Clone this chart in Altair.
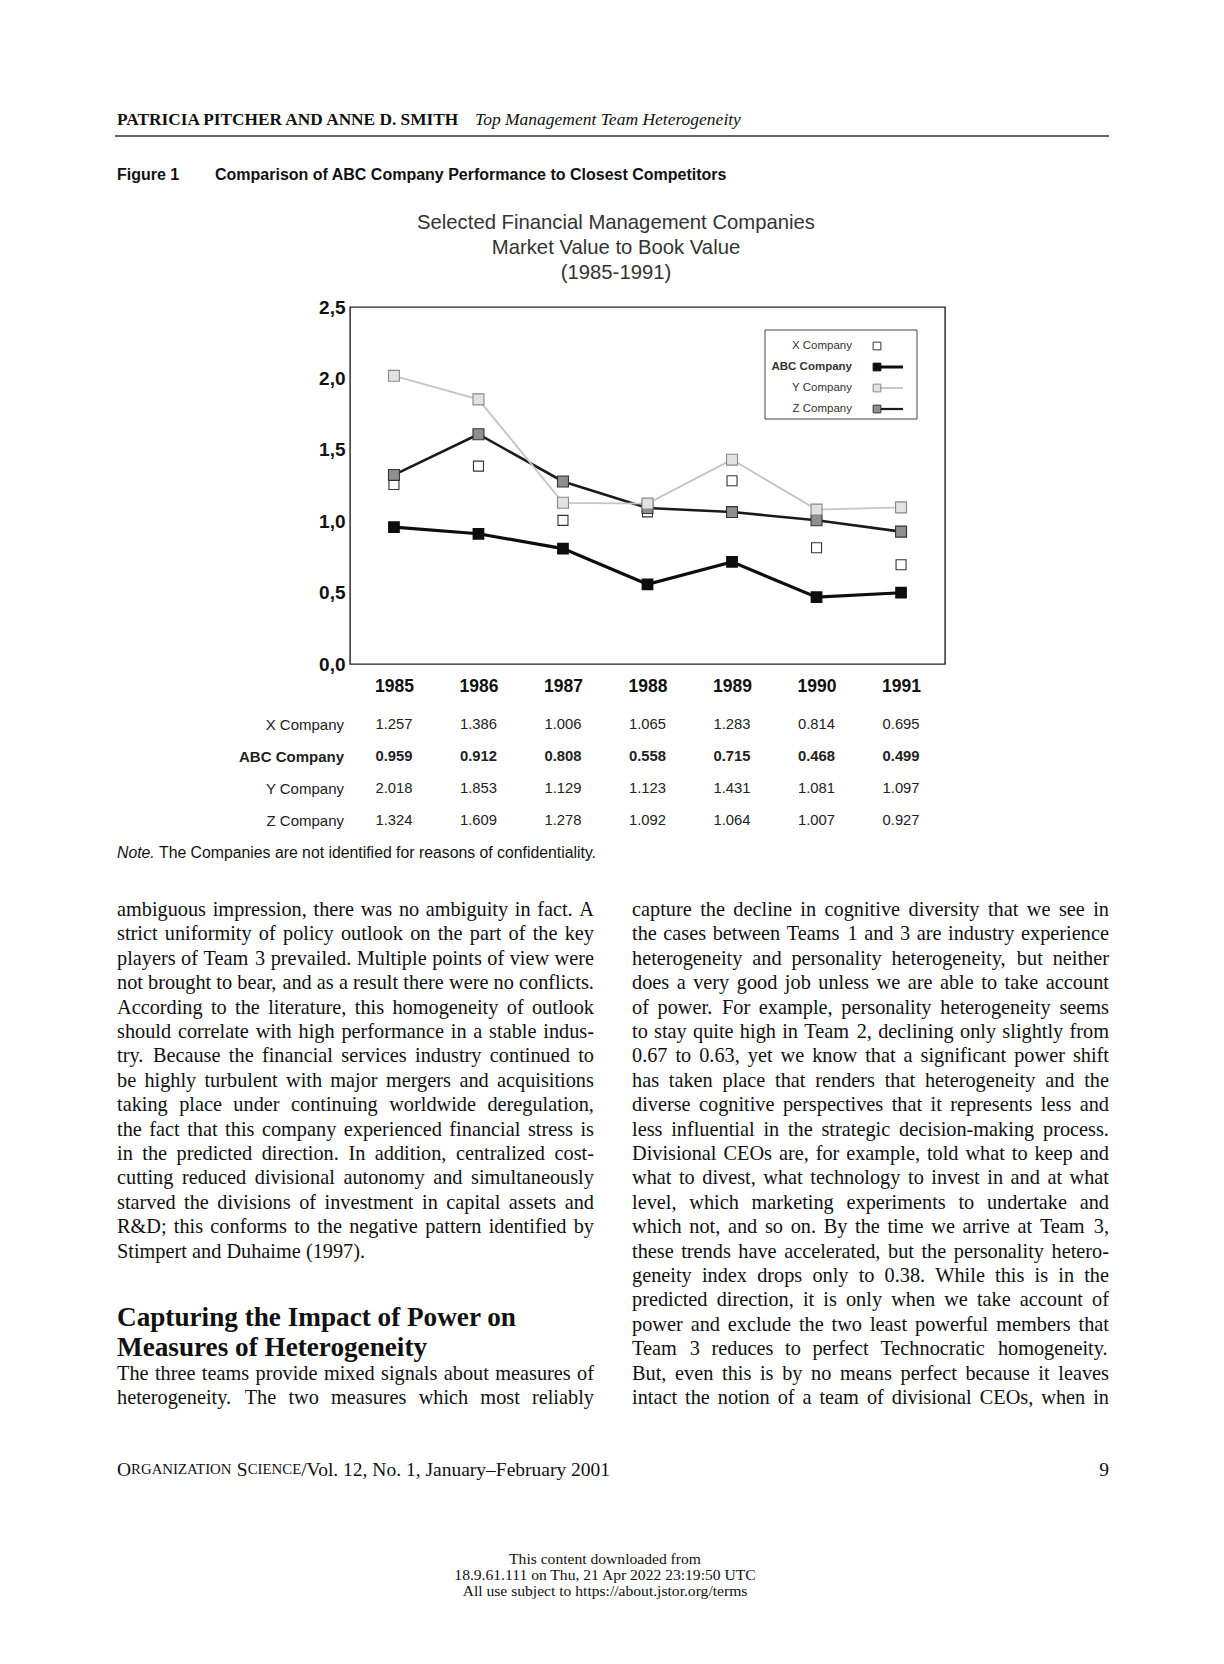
import altair as alt
import pandas as pd

# ---------------- data ----------------
years = ["1985", "1986", "1987", "1988", "1989", "1990", "1991"]
companies = ["X Company", "ABC Company", "Y Company", "Z Company"]
x_company = [1.257, 1.386, 1.006, 1.065, 1.283, 0.814, 0.695]
abc_company = [0.959, 0.912, 0.808, 0.558, 0.715, 0.468, 0.499]
y_company = [2.018, 1.853, 1.129, 1.123, 1.431, 1.081, 1.097]
z_company = [1.324, 1.609, 1.278, 1.092, 1.064, 1.007, 0.927]
y_ticks = [0.0, 0.5, 1.0, 1.5, 2.0, 2.5]

header_authors = "PATRICIA PITCHER AND ANNE D. SMITH"
header_title = "Top Management Team Heterogeneity"
figure_label = "Figure 1"
figure_caption = "Comparison of ABC Company Performance to Closest Competitors"
chart_title = ["Selected Financial Management Companies", "Market Value to Book Value", "(1985-1991)"]
note_label = "Note."
note_text = "The Companies are not identified for reasons of confidentiality."

left_lines = [
    "ambiguous impression, there was no ambiguity in fact. A",
    "strict uniformity of policy outlook on the part of the key",
    "players of Team 3 prevailed. Multiple points of view were",
    "not brought to bear, and as a result there were no conflicts.",
    "According to the literature, this homogeneity of outlook",
    "should correlate with high performance in a stable indus-",
    "try. Because the financial services industry continued to",
    "be highly turbulent with major mergers and acquisitions",
    "taking place under continuing worldwide deregulation,",
    "the fact that this company experienced financial stress is",
    "in the predicted direction. In addition, centralized cost-",
    "cutting reduced divisional autonomy and simultaneously",
    "starved the divisions of investment in capital assets and",
    "R&D; this conforms to the negative pattern identified by",
    "Stimpert and Duhaime (1997).",
]
heading_lines = ["Capturing the Impact of Power on", "Measures of Heterogeneity"]
left_after = [
    "The three teams provide mixed signals about measures of",
    "heterogeneity. The two measures which most reliably",
]
right_lines = [
    "capture the decline in cognitive diversity that we see in",
    "the cases between Teams 1 and 3 are industry experience",
    "heterogeneity and personality heterogeneity, but neither",
    "does a very good job unless we are able to take account",
    "of power. For example, personality heterogeneity seems",
    "to stay quite high in Team 2, declining only slightly from",
    "0.67 to 0.63, yet we know that a significant power shift",
    "has taken place that renders that heterogeneity and the",
    "diverse cognitive perspectives that it represents less and",
    "less influential in the strategic decision-making process.",
    "Divisional CEOs are, for example, told what to keep and",
    "what to divest, what technology to invest in and at what",
    "level, which marketing experiments to undertake and",
    "which not, and so on. By the time we arrive at Team 3,",
    "these trends have accelerated, but the personality hetero-",
    "geneity index drops only to 0.38. While this is in the",
    "predicted direction, it is only when we take account of",
    "power and exclude the two least powerful members that",
    "Team 3 reduces to perfect Technocratic homogeneity.",
    "But, even this is by no means perfect because it leaves",
    "intact the notion of a team of divisional CEOs, when in",
]
footer_pieces = [("O", 1.0), ("RGANIZATION ", 0.76), ("S", 1.0), ("CIENCE", 0.76),
                 ("/Vol. 12, No. 1, January\u2013February 2001", 1.0)]
page_number = "9"
jstor_lines = ["This content downloaded from",
               "18.9.61.111 on Thu, 21 Apr 2022 23:19:50 UTC",
               "All use subject to https://about.jstor.org/terms"]

# ---------------- layout ----------------
OX, OY, W, H = 350, 307, 595, 357
SANS = "Liberation Sans"
SERIF = "Liberation Serif"

# Times metrics (per 1000 em) used to justify the body text
TW = {" ": 250, "!": 333, "&": 778, "'": 333, "(": 333, ")": 333, ",": 250, "-": 333,
      ".": 250, "/": 278, ":": 278, ";": 278, "?": 444, "\u2013": 500,
      "A": 722, "B": 667, "C": 667, "D": 722, "E": 611, "F": 556, "G": 722, "H": 722,
      "I": 333, "J": 389, "K": 722, "L": 611, "M": 889, "N": 722, "O": 722, "P": 556,
      "Q": 722, "R": 667, "S": 556, "T": 611, "U": 722, "V": 722, "W": 944, "X": 722,
      "Y": 722, "Z": 611,
      "a": 444, "b": 500, "c": 444, "d": 500, "e": 444, "f": 333, "g": 500, "h": 500,
      "i": 278, "j": 278, "k": 500, "l": 278, "m": 778, "n": 500, "o": 500, "p": 500,
      "q": 500, "r": 333, "s": 389, "t": 278, "u": 500, "v": 500, "w": 722, "x": 500,
      "y": 500, "z": 444}


def tw(s, size):
    return sum(TW.get(ch, 500) for ch in s) * size / 1000.0


BODY_F = 20.3
LINE0 = 910
DY = 24.4
COLW = 477


def justify_rows(lines, x0, first_index, no_justify=()):
    rows = []
    for k, line in enumerate(lines):
        idx = first_index + k
        y = LINE0 + idx * DY
        words = line.split(" ")
        widths = [tw(w, BODY_F) for w in words]
        if len(words) > 1 and k not in no_justify:
            gap = (COLW - sum(widths)) / (len(words) - 1)
        else:
            gap = 250 * BODY_F / 1000.0
        x = x0
        for w, wd in zip(words, widths):
            rows.append({"px": x - OX, "py": y - OY, "w": w})
            x += wd + gap
    return rows


word_rows = []
word_rows += justify_rows(left_lines, 117, 0, no_justify=(14,))
word_rows += justify_rows(left_after, 117, 19)
word_rows += justify_rows(right_lines, 632, 0)
df_words = pd.DataFrame(word_rows)

one = pd.DataFrame({"t": [""]})


def ptext(txt, x, y, **kw):
    params = dict(baseline="middle", align="left", font=SANS, fontSize=14, color="#111")
    params.update(kw)
    return alt.Chart(pd.DataFrame({"t": [txt]})).mark_text(**params).encode(
        x=alt.value(x - OX), y=alt.value(y - OY), text="t:N")


# ---------------- chart data ----------------
series = {"X Company": x_company, "ABC Company": abc_company,
          "Y Company": y_company, "Z Company": z_company}
recs = []
for c in companies:
    for yr, v in zip(years, series[c]):
        recs.append({"year": yr, "company": c, "value": v, "label": f"{v:.3f}"})
df = pd.DataFrame(recs)

x_enc = alt.X("year:O", scale=alt.Scale(type="point", domain=years, padding=0.52),
              axis=alt.Axis(title=None, labelAngle=0, ticks=False, domain=False, grid=False,
                            labelFontSize=17.5, labelFontWeight="bold", labelFont=SANS,
                            labelColor="#111", labelPadding=13))
y_enc = alt.Y("value:Q", scale=alt.Scale(domain=[0, 2.5], nice=False),
              axis=alt.Axis(title=None, values=y_ticks, format=".1f",
                            labelExpr="replace(datum.label, '.', ',')",
                            ticks=False, domain=False, grid=False,
                            labelFontSize=19, labelFontWeight="bold", labelFont=SANS,
                            labelColor="#111", labelPadding=5))

base = alt.Chart(df)


def sel(c):
    return base.transform_filter(alt.datum.company == c)


z_line = sel("Z Company").mark_line(color="#1a1a1a", strokeWidth=2.6).encode(x=x_enc, y=y_enc)
abc_line = sel("ABC Company").mark_line(color="#0d0d0d", strokeWidth=3.2).encode(x=x_enc, y=y_enc)
y_line = sel("Y Company").mark_line(color="#c4c4c4", strokeWidth=1.8).encode(x=x_enc, y=y_enc)

x_pts = sel("X Company").mark_square(size=100, filled=True, fill="white", stroke="#333",
                                      strokeWidth=1.1, opacity=1).encode(x=x_enc, y=y_enc)
abc_pts = sel("ABC Company").mark_square(size=95, filled=True, fill="#0d0d0d", stroke="#0d0d0d",
                                          opacity=1).encode(x=x_enc, y=y_enc)
z_pts = sel("Z Company").mark_square(size=120, filled=True, fill="#8f8f8f", stroke="#333",
                                      strokeWidth=1.1, opacity=1).encode(x=x_enc, y=y_enc)
y_pts = sel("Y Company").mark_square(size=120, filled=True, fill="#e2e2e2", stroke="#888",
                                      strokeWidth=1.1, opacity=1).encode(x=x_enc, y=y_enc)

# ---------------- legend (custom) ----------------
leg_rows_y = [346, 367, 388, 409]
legend_layers = [
    alt.Chart(one).mark_rect(fill="white", stroke="#444", strokeWidth=1).encode(
        x=alt.value(765 - OX), x2=alt.value(917 - OX), y=alt.value(330 - OY), y2=alt.value(419 - OY))
]
leg_style = {
    "X Company": dict(line=None, fill="white", stroke="#333"),
    "ABC Company": dict(line=("#0d0d0d", 3), fill="#0d0d0d", stroke="#0d0d0d"),
    "Y Company": dict(line=("#b5b5b5", 1.5), fill="#e2e2e2", stroke="#888"),
    "Z Company": dict(line=("#1a1a1a", 2.2), fill="#8f8f8f", stroke="#333"),
}
for c, ly in zip(companies, leg_rows_y):
    st = leg_style[c]
    legend_layers.append(ptext(c, 852, ly, align="right", fontSize=11.5, color="#333",
                               fontWeight="bold" if c == "ABC Company" else "normal"))
    if st["line"]:
        legend_layers.append(alt.Chart(one).mark_rule(color=st["line"][0], strokeWidth=st["line"][1]).encode(
            x=alt.value(877 - OX), x2=alt.value(903 - OX), y=alt.value(ly - OY)))
    legend_layers.append(alt.Chart(one).mark_square(size=60, filled=True, fill=st["fill"], stroke=st["stroke"],
                                                    strokeWidth=1, opacity=1).encode(
        x=alt.value(877 - OX), y=alt.value(ly - OY)))

# ---------------- data table below chart ----------------
table_rows_y = [725, 757, 789, 821]
table_layers = []
for c, ty in zip(companies, table_rows_y):
    bold = "bold" if c == "ABC Company" else "normal"
    table_layers.append(ptext(c, 344, ty, align="right", fontSize=15, color="#222", fontWeight=bold))
    table_layers.append(sel(c).mark_text(align="center", baseline="middle", font=SANS, fontSize=14.8,
                                         color="#222", fontWeight=bold).encode(
        x=x_enc, y=alt.value(ty - OY), text="label:N"))

# ---------------- page text ----------------
page_layers = []
page_layers.append(ptext(header_authors, 117, 120, font=SERIF, fontSize=17.3, fontWeight="bold"))
page_layers.append(ptext(header_title, 475, 120, font=SERIF, fontSize=17.5, fontStyle="italic"))
page_layers.append(alt.Chart(one).mark_rule(color="#333", strokeWidth=1.3).encode(
    x=alt.value(115 - OX), x2=alt.value(1109 - OX), y=alt.value(136 - OY)))
page_layers.append(ptext(figure_label, 117, 175, fontSize=16, fontWeight="bold"))
page_layers.append(ptext(figure_caption, 215, 175, fontSize=16, fontWeight="bold"))
for t, yy in zip(chart_title, [223, 248, 273]):
    page_layers.append(ptext(t, 616, yy, align="center", fontSize=20.3, color="#333"))
page_layers.append(ptext(note_label, 117, 853, fontSize=15.8, fontStyle="italic"))
page_layers.append(ptext(note_text, 159, 853, fontSize=15.8))

page_layers.append(alt.Chart(df_words).mark_text(align="left", baseline="middle", font=SERIF,
                                                 fontSize=BODY_F, color="#111").encode(
    x=alt.X("px:Q", scale=None, axis=None), y=alt.Y("py:Q", scale=None, axis=None), text="w:N"))
for t, yy in zip(heading_lines, [1318, 1348]):
    page_layers.append(ptext(t, 117, yy, font=SERIF, fontSize=27.2, fontWeight="bold"))

FOOT_F = 19.5
fx = 117
for piece, scl in footer_pieces:
    page_layers.append(ptext(piece, fx, 1470, font=SERIF, fontSize=FOOT_F * scl))
    fx += tw(piece, FOOT_F * scl)
page_layers.append(ptext(page_number, 1109, 1470, font=SERIF, fontSize=19.5, align="right"))
for t, yy in zip(jstor_lines, [1559, 1575, 1591]):
    page_layers.append(ptext(t, 605, yy, font=SERIF, fontSize=15.6, align="center"))

chart = alt.layer(
    z_line, abc_line, y_line, x_pts, abc_pts, z_pts, y_pts,
    *legend_layers, *table_layers, *page_layers
).properties(
    width=W, height=H,
    padding={"left": OX, "top": OY, "right": 1224 - OX - W, "bottom": 1664 - OY - H},
    autosize=alt.AutoSizeParams(type="none"),
    background="white",
).configure_view(stroke="#222", strokeWidth=1.4)

chart.save("out.html", embed_options={"renderer": "svg", "actions": False})
